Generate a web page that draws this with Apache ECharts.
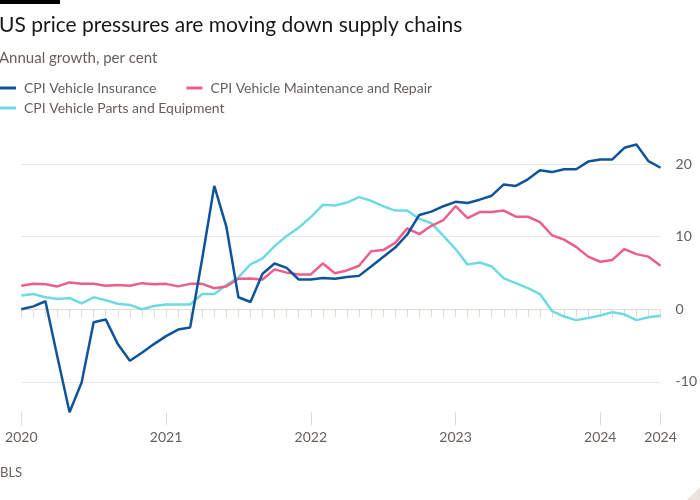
<!DOCTYPE html>
<html>
<head>
<meta charset="utf-8">
<script src="https://cdn.jsdelivr.net/npm/echarts@6/dist/echarts.min.js"></script>
<style>
html,body{margin:0;padding:0;background:#ffffff;}
#chart{width:700px;height:500px;}
</style>
</head>
<body>
<div id="chart"></div>
<script>
// Monthly categories Jan 2020 - Jun 2024
const months = [];
for (let y = 2020; y <= 2024; y++) {
  for (let m = 1; m <= 12; m++) {
    if (y === 2024 && m > 6) break;
    months.push(y + '-' + (m < 10 ? '0' + m : m));
  }
}

const insurance = [0.0, 0.4, 1.1, -6.6, -14.2, -10.1, -1.8, -1.4, -4.8, -7.1,
  -6.0, -4.8, -3.7, -2.8, -2.5, 7.0, 17.0, 11.4, 1.65, 1.0,
  4.9, 6.3, 5.7, 4.1, 4.1, 4.3, 4.2, 4.45, 4.6, 5.9,
  7.2, 8.5, 10.3, 13.0, 13.45, 14.2, 14.8, 14.65, 15.1, 15.65,
  17.2, 17.0, 17.9, 19.15, 18.9, 19.3, 19.3, 20.35, 20.65, 20.65,
  22.25, 22.7, 20.4, 19.5];

const maintenance = [3.25, 3.5, 3.45, 3.15, 3.7, 3.5, 3.5, 3.25, 3.35, 3.25,
  3.6, 3.45, 3.5, 3.15, 3.5, 3.5, 2.9, 3.15, 4.2, 4.25,
  4.1, 5.5, 5.05, 4.8, 4.8, 6.3, 4.95, 5.35, 6.0, 8.0,
  8.15, 9.15, 11.15, 10.35, 11.5, 12.3, 14.2, 12.55, 13.4, 13.4,
  13.6, 12.75, 12.75, 12.0, 10.2, 9.6, 8.6, 7.25, 6.55, 6.8,
  8.3, 7.6, 7.25, 6.0];

const parts = [1.9, 2.1, 1.65, 1.4, 1.55, 0.8, 1.65, 1.25, 0.75, 0.6,
  0.0, 0.45, 0.65, 0.65, 0.65, 2.1, 2.1, 3.35, 4.4, 6.2,
  7.0, 8.7, 10.1, 11.25, 12.7, 14.4, 14.3, 14.7, 15.45, 14.95,
  14.2, 13.6, 13.6, 12.45, 11.85, 10.1, 8.3, 6.15, 6.45, 5.9,
  4.25, 3.6, 2.9, 2.1, -0.25, -1.0, -1.5, -1.2, -0.85, -0.4,
  -0.7, -1.5, -1.1, -0.9];

const yTicks = [-10, 0, 10, 20];
const xLabelIndexes = [0, 12, 24, 36, 48, 53];

const seriesNames = ['CPI Vehicle Insurance', 'CPI Vehicle Maintenance and Repair', 'CPI Vehicle Parts and Equipment'];
const colors = ['#0f5499', '#eb5e8d', '#6fdae4'];

const FONT = 'Lato, "Liberation Sans", sans-serif';
const GREY = '#66605c';

const chart = echarts.init(document.getElementById('chart'), null, {renderer: 'canvas'});

const isLabelIdx = (i) => xLabelIndexes.indexOf(i) >= 0;

chart.setOption({
  backgroundColor: '#ffffff',
  animation: false,
  textStyle: {fontFamily: FONT},
  title: [
    {text: 'US price pressures are moving down supply chains', left: -1, top: 15, padding: 0,
     textStyle: {fontFamily: FONT, fontSize: 21, fontWeight: 'normal', color: '#1a1817'}},
    {text: 'Annual growth, per cent', left: -1, top: 51, padding: 0,
     textStyle: {fontFamily: FONT, fontSize: 15, fontWeight: 'normal', color: GREY}}
  ],
  legend: [
    {data: [seriesNames[0], seriesNames[1]], left: 0, top: 81, padding: 0, icon: 'rect', itemWidth: 16, itemHeight: 3,
     itemGap: 30, textStyle: {fontFamily: FONT, fontSize: 14, color: GREY, padding: [0, 0, 0, 3]}},
    {data: [seriesNames[2]], left: 0, top: 101, padding: 0, icon: 'rect', itemWidth: 16, itemHeight: 3,
     itemGap: 30, textStyle: {fontFamily: FONT, fontSize: 14, color: GREY, padding: [0, 0, 0, 3]}}
  ],
  grid: {left: 21.3, right: 36, top: 135.1, bottom: 87.7, containLabel: false},
  xAxis: [
    {type: 'category', data: months, boundaryGap: false,
     axisLine: {show: true, lineStyle: {color: '#e2dbd4', width: 1}},
     axisTick: {show: true, interval: 0, length: 8, lineStyle: {color: '#e2dbd4'}},
     axisLabel: {show: false}, splitLine: {show: false}},
    {type: 'category', data: months, boundaryGap: false, position: 'bottom',
     axisLine: {show: false},
     axisTick: {show: true, interval: (i) => isLabelIdx(i), length: 13, lineStyle: {color: '#e2dbd4'}},
     axisLabel: {show: true, interval: (i) => isLabelIdx(i), formatter: (v) => v.slice(0, 4),
                 margin: 18, fontFamily: FONT, fontSize: 14, color: GREY},
     splitLine: {show: false}}
  ],
  yAxis: {
    type: 'value', position: 'right', min: -14.2, max: 24,
    axisLine: {show: false},
    axisTick: {show: false, customValues: yTicks},
    axisLabel: {show: true, customValues: yTicks, margin: 15, fontFamily: FONT, fontSize: 14, color: GREY},
    splitLine: {show: true, lineStyle: {color: '#ede7e1', width: 1}}
  },
  series: [
    {name: seriesNames[2], type: 'line', data: parts, showSymbol: false, symbol: 'none',
     lineStyle: {color: colors[2], width: 2.5}, itemStyle: {color: colors[2]}},
    {name: seriesNames[1], type: 'line', data: maintenance, showSymbol: false, symbol: 'none',
     lineStyle: {color: colors[1], width: 2.5}, itemStyle: {color: colors[1]}},
    {name: seriesNames[0], type: 'line', data: insurance, showSymbol: false, symbol: 'none',
     lineStyle: {color: colors[0], width: 2.5}, itemStyle: {color: colors[0]}}
  ],
  graphic: [
    {type: 'rect', left: 0, top: 0, shape: {width: 60, height: 4}, style: {fill: '#000000'}},
    {type: 'text', left: 0, top: 466, style: {text: 'BLS', fontFamily: FONT, fontSize: 13, fill: GREY}},
    {type: 'polygon', shape: {points: [[700, 487], [700, 500], [687, 500]]}, style: {fill: '#ebe3dc'}}
  ]
});
</script>
</body>
</html>
